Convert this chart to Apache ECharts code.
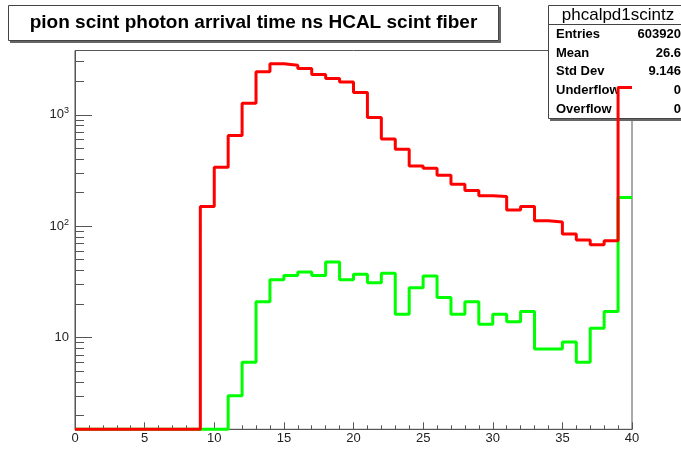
<!DOCTYPE html>
<html>
<head>
<meta charset="utf-8">
<script src="https://cdn.jsdelivr.net/npm/echarts@6/dist/echarts.min.js"></script>
<style>
  html, body { margin: 0; padding: 0; background: #fff; }
  #hist { width: 681px; height: 450px; }
</style>
</head>
<body>
<div id="hist"></div>
<script>
// bin lower edges 0..39, width 1 ns
var binEdges = [];
for (var b = 0; b <= 40; b++) binEdges.push(b);

// counts per bin (0 = empty bin)
var redCounts = [
  0, 0, 0, 0, 0, 0, 0, 0, 0, 150,
  339, 652, 1274, 2434, 2871, 2792, 2605, 2303, 2118, 1978,
  1586, 945, 608, 492, 348, 332, 287, 238, 209, 188,
  185, 140, 150, 112, 109, 85, 75, 68, 74, 1757
];
var greenCounts = [
  0, 0, 0, 0, 0, 0, 0, 0, 0, 0,
  0, 3.0, 6.0, 21, 33, 36, 38.8, 36, 47.8, 33,
  37, 31, 37.9, 16.2, 28, 35.7, 22.9, 16.2, 21, 13.2,
  16.2, 13.9, 17.1, 7.9, 7.9, 9.1, 6.0, 12.1, 17.1, 181
];

var yDecades = [10, 100, 1000];
var yDecadeLabels = ['10', '10{sup|2}', '10{sup|3}'];

var statsNames = ['Entries', 'Mean', 'Std Dev', 'Underflow', 'Overflow'];
var statsValues = ['603920', '26.6', '9.146', '0', '0'];

var Y_MIN = 1.5, Y_MAX = 3785;
var LMIN = Math.log10(Y_MIN), LMAX = Math.log10(Y_MAX);

function stepData(counts) {
  var out = [];
  for (var i = 0; i < counts.length; i++) {
    out.push([binEdges[i], counts[i] > 0 ? counts[i] : Y_MIN]);
  }
  out.push([binEdges[counts.length], counts[counts.length - 1] > 0 ? counts[counts.length - 1] : Y_MIN]);
  return out;
}

var majorTicks = yDecades.map(function (v) { return Math.log10(v); });
var minorTicks = [];
[1, 10, 100, 1000].forEach(function (d) {
  for (var k = 2; k <= 9; k++) {
    var lv = Math.log10(k * d);
    if (lv > LMIN && lv < LMAX) minorTicks.push(lv);
  }
});

var FONT = '"Liberation Sans", Arial, Helvetica, sans-serif';
var AXIS_COLOR = '#555';

var chart = echarts.init(document.getElementById('hist'));

var graphics = [
  // title box with shadow
  { type: 'rect', z: 10, shape: { x: 10, y: 7, width: 491, height: 36 }, style: { fill: '#666' } },
  { type: 'rect', z: 11, shape: { x: 8.5, y: 5.5, width: 490, height: 35 }, style: { fill: '#fff', stroke: '#444', lineWidth: 1 } },
  { type: 'text', z: 12, x: 253.5, y: 23, style: { text: 'pion scint photon arrival time ns HCAL scint fiber', font: 'bold 19px ' + FONT, fill: '#000', align: 'center', verticalAlign: 'middle' } },
  // stats box with shadow
  { type: 'rect', z: 1, shape: { x: 550, y: 7, width: 140, height: 114 }, style: { fill: '#666' } },
  { type: 'rect', z: 1, shape: { x: 548.5, y: 5.5, width: 140, height: 113 }, style: { fill: '#fff', stroke: '#444', lineWidth: 1 } },
  { type: 'line', z: 1, shape: { x1: 548.5, y1: 24.5, x2: 681, y2: 24.5 }, style: { stroke: '#444', lineWidth: 1 } },
  { type: 'text', z: 1, x: 618, y: 15, style: { text: 'phcalpd1scintz', font: '17px ' + FONT, fill: '#000', align: 'center', verticalAlign: 'middle' } }
];
statsNames.forEach(function (name, i) {
  var y = 34.5 + i * 18.7;
  graphics.push({ type: 'text', z: 1, x: 556, y: y, style: { text: name, font: 'bold 13px ' + FONT, fill: '#000', align: 'left', verticalAlign: 'middle' } });
  graphics.push({ type: 'text', z: 1, x: 681, y: y, style: { text: statsValues[i], font: 'bold 13px ' + FONT, fill: '#000', align: 'right', verticalAlign: 'middle' } });
});

var option = {
  animation: false,
  backgroundColor: '#fff',
  grid: {
    left: 75, top: 50.5, right: 49, bottom: 20.7,
    show: true, borderColor: AXIS_COLOR, borderWidth: 1, backgroundColor: 'transparent'
  },
  xAxis: {
    type: 'value', min: 0, max: 40, interval: 5,
    axisLine: { show: true, lineStyle: { color: AXIS_COLOR, width: 1 } },
    axisTick: { show: true, inside: true, length: 7, lineStyle: { color: AXIS_COLOR } },
    minorTick: { show: true, splitNumber: 5, length: 4, lineStyle: { color: AXIS_COLOR } },
    axisLabel: { margin: 3, color: '#222', fontFamily: FONT, fontSize: 13 },
    splitLine: { show: false }
  },
  yAxis: [
    {
      type: 'log', logBase: 10, min: Y_MIN, max: Y_MAX,
      axisLine: { show: true, lineStyle: { color: AXIS_COLOR, width: 1 } },
      axisTick: { show: false }, axisLabel: { show: false }, splitLine: { show: false }
    },
    {
      type: 'value', min: LMIN, max: LMAX, position: 'left',
      axisLine: { show: false },
      axisTick: { show: true, inside: true, length: 17, customValues: majorTicks, lineStyle: { color: AXIS_COLOR } },
      axisLabel: {
        customValues: majorTicks, margin: 6, color: '#222', fontFamily: FONT, fontSize: 13,
        formatter: function (v) {
          var idx = majorTicks.findIndex(function (m) { return Math.abs(m - v) < 1e-6; });
          return idx >= 0 ? yDecadeLabels[idx] : '';
        },
        rich: { sup: { fontSize: 9, verticalAlign: 'top', padding: [0, 0, 8, 0], color: '#222', fontFamily: FONT } }
      },
      splitLine: { show: false }
    },
    {
      type: 'value', min: LMIN, max: LMAX, position: 'left',
      axisLine: { show: false },
      axisTick: { show: true, inside: true, length: 9, customValues: minorTicks, lineStyle: { color: AXIS_COLOR } },
      axisLabel: { show: false },
      splitLine: { show: false }
    }
  ],
  series: [
    {
      name: 'green', type: 'line', step: 'end', yAxisIndex: 0, z: 3,
      data: stepData(greenCounts), showSymbol: false, clip: false,
      lineStyle: { color: '#00ff00', width: 3 }
    },
    {
      name: 'red', type: 'line', step: 'end', yAxisIndex: 0, z: 4,
      data: stepData(redCounts), showSymbol: false, clip: false,
      lineStyle: { color: '#ff0000', width: 3 }
    }
  ],
  graphic: graphics
};
chart.setOption(option);
</script>
</body>
</html>
